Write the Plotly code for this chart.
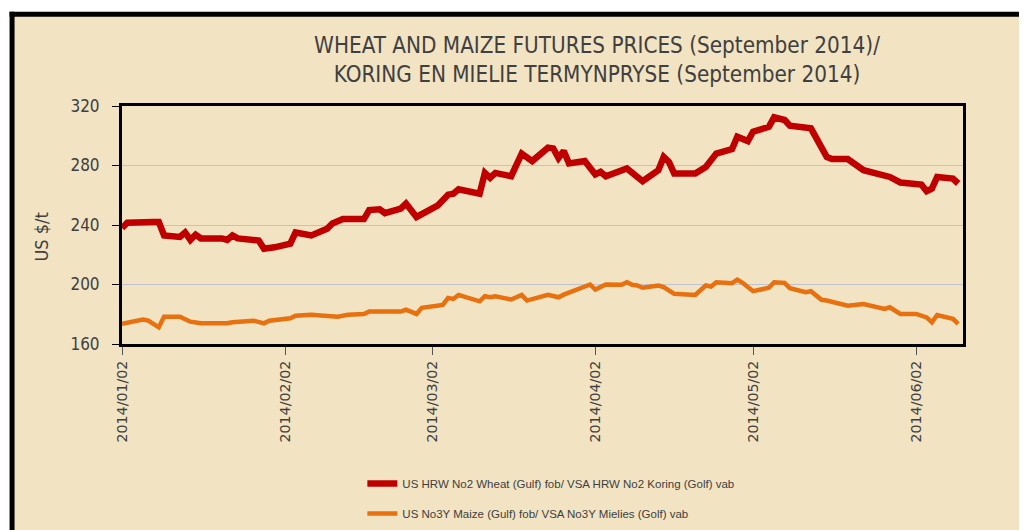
import plotly.graph_objects as go

# ---- data ----
wheat_dates = ["2014-01-02","2014-01-03","2014-01-08","2014-01-09","2014-01-10","2014-01-13","2014-01-14",
    "2014-01-15","2014-01-16","2014-01-17","2014-01-21","2014-01-22","2014-01-23","2014-01-24","2014-01-28",
    "2014-01-29","2014-01-31","2014-02-03","2014-02-04","2014-02-07","2014-02-10","2014-02-11","2014-02-13",
    "2014-02-17","2014-02-18","2014-02-20","2014-02-21","2014-02-24","2014-02-25","2014-02-27","2014-03-03",
    "2014-03-05","2014-03-06","2014-03-07","2014-03-11","2014-03-12","2014-03-13","2014-03-14","2014-03-17",
    "2014-03-19","2014-03-21","2014-03-24","2014-03-25","2014-03-26","2014-03-27","2014-03-28","2014-03-31",
    "2014-04-02","2014-04-03","2014-04-04","2014-04-08","2014-04-11","2014-04-14","2014-04-15","2014-04-16",
    "2014-04-17","2014-04-21","2014-04-23","2014-04-25","2014-04-28","2014-04-29","2014-05-01","2014-05-02",
    "2014-05-05","2014-05-06","2014-05-08","2014-05-09","2014-05-13","2014-05-16","2014-05-17","2014-05-20",
    "2014-05-23","2014-05-28","2014-05-30","2014-06-03","2014-06-04","2014-06-05","2014-06-06","2014-06-09",
    "2014-06-10"]
wheat_values = [238,241.5,242,242,233,232,235,230,233.5,231,231,230,233,231,229.6,224,225,227.5,235,233,
    237.5,241,244,244,250,250.5,248,251,254.4,245.4,253,260.4,261,264,261,275,271.7,275,272.8,288,283,292,
    291.5,285,289.7,281.4,283,274,275.7,272.8,278,269.4,276.8,285.8,282.4,274.6,274.6,279,288,291,299.3,
    296.4,302.7,306,312.4,310.6,306.7,305,285.8,284.3,284.3,276.8,272.3,268.6,267.2,262.7,264.5,272.3,
    271.2,267.9]

maize_dates = ["2014-01-02","2014-01-06","2014-01-07","2014-01-09","2014-01-10","2014-01-13","2014-01-15",
    "2014-01-17","2014-01-22","2014-01-23","2014-01-27","2014-01-29","2014-01-30","2014-02-03","2014-02-04",
    "2014-02-07","2014-02-12","2014-02-14","2014-02-17","2014-02-18","2014-02-24","2014-02-25","2014-02-27",
    "2014-02-28","2014-03-04","2014-03-05","2014-03-06","2014-03-07","2014-03-11","2014-03-12","2014-03-13",
    "2014-03-14","2014-03-17","2014-03-19","2014-03-20","2014-03-24","2014-03-26","2014-03-27","2014-04-01",
    "2014-04-02","2014-04-04","2014-04-07","2014-04-08","2014-04-09","2014-04-10","2014-04-11","2014-04-14",
    "2014-04-15","2014-04-17","2014-04-21","2014-04-23","2014-04-24","2014-04-25","2014-04-28","2014-04-29",
    "2014-04-30","2014-05-02","2014-05-05","2014-05-06","2014-05-08","2014-05-09","2014-05-12","2014-05-13",
    "2014-05-15","2014-05-16","2014-05-20","2014-05-23","2014-05-27","2014-05-28","2014-05-30","2014-06-02",
    "2014-06-04","2014-06-05","2014-06-06","2014-06-09","2014-06-10"]
maize_values = [173.5,176.4,175.7,171.2,178.4,178.4,175,173.9,173.9,174.6,175.7,173.9,175.7,177.3,179,
    179.7,178.4,179.7,180.2,181.8,181.8,183.1,180.2,184.3,186.3,191,190.3,193,188.7,192.1,191.4,192.1,189.9,
    193,189.2,193,191.4,193.2,200,196.6,200,199.8,201.5,199.8,199.3,197.8,199.3,198.2,193.7,193,199.3,198.6,
    201.5,200.9,203.3,201.1,195.5,197.8,201.5,201.1,197.5,194.8,195.5,189.7,189.2,185.8,186.9,183.6,184.7,
    180.2,180.2,177.9,174.6,179.5,176.9,173.5]

wheat_name = "US HRW No2 Wheat (Gulf) fob/ VSA HRW No2 Koring (Golf) vab"
maize_name = "US No3Y Maize (Gulf) fob/ VSA No3Y Mielies (Golf) vab"
title_text = "WHEAT AND MAIZE FUTURES PRICES (September 2014)/<br>KORING EN MIELIE TERMYNPRYSE (September 2014)"
y_title = "US $/t"
y_ticks = [160, 200, 240, 280, 320]
x_ticks = ["2014-01-02","2014-02-02","2014-03-02","2014-04-02","2014-05-02","2014-06-02"]
x_ticklabels = ["2014/01/02","2014/02/02","2014/03/02","2014/04/02","2014/05/02","2014/06/02"]

BG = "#F2E3C3"
NARROW = "DejaVu Sans Condensed, Liberation Sans Narrow, sans-serif"

# page body has an 8px margin: the figure starts at (8, 8) on screen
OFF = 8
W, H = 1027 - OFF, 530 - OFF
L, R, T, B = 121.5 - OFF, 963 - OFF, 106 - OFF, 344 - OFF
pw, ph = R - L, B - T

def px2x(p):  # screen px -> paper x
    return (p - OFF - L) / pw

def py2y(p):  # screen px -> paper y
    return (B - (p - OFF)) / ph

fig = go.Figure()
fig.add_trace(go.Scatter(x=wheat_dates, y=wheat_values, mode="lines", name=wheat_name,
                         legendgroup="w", line=dict(color="#C00000", width=6.5)))
fig.add_trace(go.Scatter(x=maize_dates, y=maize_values, mode="lines", name=maize_name,
                         legendgroup="m", line=dict(color="#E8700E", width=4.5)))

frame_shapes = [
    # parchment panel
    dict(type="rect", xref="paper", yref="paper", layer="below",
         x0=px2x(11.5), x1=px2x(1300), y0=py2y(800), y1=py2y(14.3),
         fillcolor=BG, line=dict(color="rgba(0,0,0,0)", width=0)),
    # left and top edges of the outer frame
    dict(type="line", xref="paper", yref="paper", layer="below",
         x0=px2x(11.5), x1=px2x(11.5), y0=py2y(800), y1=py2y(11.8),
         line=dict(color="black", width=5)),
    dict(type="line", xref="paper", yref="paper", layer="below",
         x0=px2x(9), x1=px2x(1300), y0=py2y(14.3), y1=py2y(14.3),
         line=dict(color="black", width=5)),
]

fig.update_layout(
    width=W, height=H,
    margin=dict(l=L, r=W - R, t=T, b=H - B, pad=0, autoexpand=False),
    paper_bgcolor="white",
    plot_bgcolor="rgba(0,0,0,0)",
    showlegend=True,
    legend=dict(x=px2x(362), y=py2y(469), xanchor="left", yanchor="top",
                bgcolor="rgba(0,0,0,0)", tracegroupgap=11,
                font=dict(family="Liberation Sans, Arial, sans-serif", size=11.5, color="#404040")),
    title=dict(text=title_text, x=(597 - OFF) / W, xanchor="center", xref="container",
               y=1 - (53 - OFF) / H, yanchor="top", yref="container",
               font=dict(family=NARROW, size=22.3, color="#404040")),
    shapes=frame_shapes,
    annotations=[dict(text=y_title, xref="paper", yref="paper", x=px2x(40), y=py2y(237),
                      xanchor="center", yanchor="middle", textangle=-90, showarrow=False,
                      font=dict(family=NARROW, size=18, color="#404040"))],
)

fig.update_xaxes(
    type="date", range=["2014-01-02", "2014-06-10 22:00"], automargin=False,
    tickvals=x_ticks, ticktext=x_ticklabels, tickangle=-90,
    ticks="outside", ticklen=8, tickwidth=1, tickcolor="#555555",
    showgrid=False, showline=True, linecolor="black", linewidth=3, mirror=True,
    tickfont=dict(family="DejaVu Sans, sans-serif", size=14.2, color="#404040"),
    zeroline=False,
)
fig.update_yaxes(
    range=[160, 320], tickvals=y_ticks, automargin=False,
    ticks="outside", ticklen=7, tickwidth=1, tickcolor="black", ticklabelstandoff=9,
    showgrid=True, gridcolor="#BFC3CF", gridwidth=1,
    showline=True, linecolor="black", linewidth=3, mirror=True,
    tickfont=dict(family=NARROW, size=17, color="#404040"),
    zeroline=False,
)

fig.write_html("out.html")
